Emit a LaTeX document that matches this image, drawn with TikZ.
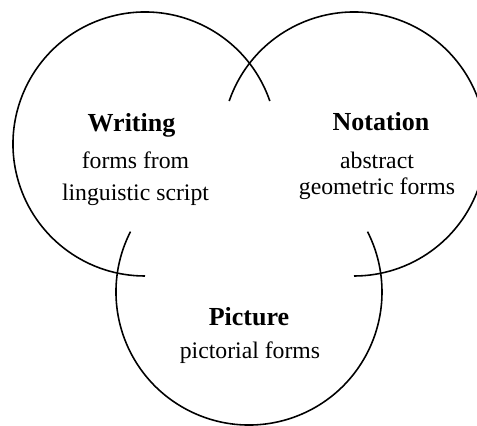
\documentclass[tikz,border=0pt]{standalone}
\usepackage{fontspec}
\setmainfont{Liberation Serif}
\usepackage{tikz}

\begin{document}
\begin{tikzpicture}[scale=0.02]
        \useasboundingbox (0,0) rectangle (477,425);
        \tikzset{ring/.style={line width=0.9pt, black},
                 title/.style={font={\fontsize{14.8}{17}\selectfont\bfseries}, black, anchor=base, inner sep=0pt},
                 desc/.style={font={\fontsize{13.5}{16}\selectfont}, black, anchor=base, inner sep=0pt}}

        % Writing
        \draw[ring] (145,281) ++(19:132) arc[start angle=19, end angle=270, radius=132];
        \node[title] (writing) at (131.5,294) {Writing};
        \node[desc] (writing1) at (135.5,257) {forms from};
        \node[desc] (writing2) at (135.5,225) {linguistic script};

        % Notation
        \draw[ring] (354,281) ++(161:132) arc[start angle=161, end angle=-90, radius=132];
        \node[title] (notation) at (381,295) {Notation};
        \node[desc] (notation1) at (377,257) {abstract};
        \node[desc] (notation2) at (377,231) {geometric forms};

        % Picture
        \draw[ring] (249,133) ++(153:133) arc[start angle=153, end angle=387, radius=133];
        \node[title] (picture) at (249,100) {Picture};
        \node[desc] (picture1) at (250,67) {pictorial forms};
    \end{tikzpicture}
\end{document}
